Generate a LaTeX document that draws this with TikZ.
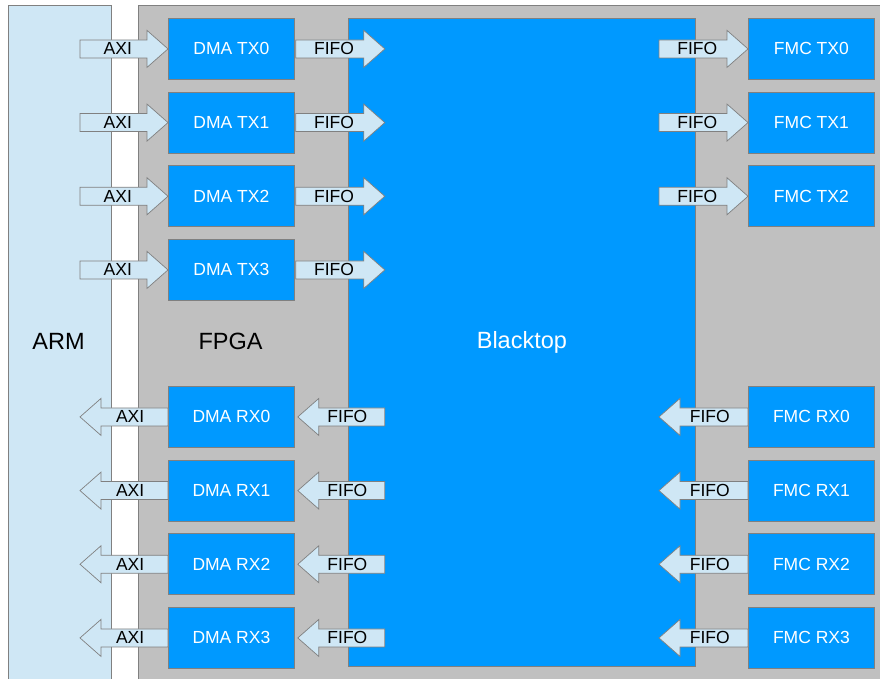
\documentclass[tikz,border=0pt]{standalone}
\usepackage{fontspec}
\setmainfont{Liberation Sans}
\usetikzlibrary{positioning,calc}
\definecolor{armblue}{RGB}{207,231,245}
\definecolor{boxblue}{RGB}{0,153,255}
\definecolor{fpgagray}{RGB}{192,192,192}
\definecolor{edgegray}{RGB}{128,128,128}
% block arrow: tail, tip, label name, label text
\newcommand{\busarrow}[4]{%
    \draw[bus] ($(#1)+(0,-9)$) -- ($(#2)!21pt!(#1)+(0,-9)$) -- ($(#2)!21pt!(#1)+(0,-18.5)$)
        -- (#2) -- ($(#2)!21pt!(#1)+(0,18.5)$) -- ($(#2)!21pt!(#1)+(0,9)$) -- ($(#1)+(0,9)$) -- cycle;
    \node[buslabel] (#3) at ($(#1)!0.43!(#2)$) {#4};
}

\begin{document}
\begin{tikzpicture}[
    x=1pt, y=-1pt,
    node distance=11.87pt,
    panel/.style={draw=edgegray, line width=0.8pt},
    block/.style={rectangle, draw=edgegray, line width=0.8pt, fill=boxblue, text=white,
        minimum width=126pt, minimum height=61pt, inner sep=0pt, font=\fontsize{17.5}{20}\selectfont},
    bus/.style={draw=edgegray, line width=0.7pt, fill=armblue},
    buslabel/.style={inner sep=0pt, text=black, font=\fontsize{17.5}{20}\selectfont},
    biglabel/.style={inner sep=0pt, font=\fontsize{23.5}{26}\selectfont}
]
    \clip (0,0) rectangle (880,678);
    \fill[white] (0,0) rectangle (880,678);

    % ARM and FPGA
    \draw[panel, fill=armblue] (8,5) rectangle (111,700);
    \draw[panel, fill=fpgagray] (138,5) rectangle (900,700);
    \node[biglabel] (arm) at (58.5,341.5) {ARM};
    \node[biglabel] (fpga) at (230.5,341.5) {FPGA};

    % Blacktop
    \node[block, minimum width=347pt, minimum height=648pt, font=\fontsize{23.5}{26}\selectfont,
        anchor=north west] (blacktop) at (348,18) {Blacktop};

    % DMA side
    \node[block, anchor=north west] (dmatx0) at (168,18) {DMA TX0};
    \node[block, below=of dmatx0] (dmatx1) {DMA TX1};
    \node[block, below=of dmatx1] (dmatx2) {DMA TX2};
    \node[block, below=of dmatx2] (dmatx3) {DMA TX3};
    \node[block, below=85.2pt of dmatx3] (dmarx0) {DMA RX0};
    \node[block, below=of dmarx0] (dmarx1) {DMA RX1};
    \node[block, below=of dmarx1] (dmarx2) {DMA RX2};
    \node[block, below=of dmarx2] (dmarx3) {DMA RX3};

    % FMC side
    \node[block, anchor=north west] (fmctx0) at (748,18) {FMC TX0};
    \node[block, below=of fmctx0] (fmctx1) {FMC TX1};
    \node[block, below=of fmctx1] (fmctx2) {FMC TX2};
    \node[block, below=85.2pt of fmctx2.south |- dmatx3.south] (fmcrx0) {FMC RX0};
    \node[block, below=of fmcrx0] (fmcrx1) {FMC RX1};
    \node[block, below=of fmcrx1] (fmcrx2) {FMC RX2};
    \node[block, below=of fmcrx2] (fmcrx3) {FMC RX3};

    % Arrows
    \foreach \i in {0,...,3} {
        \coordinate (axitx\i) at ($(dmatx\i.west)+(-88,0)$);
        \coordinate (fifotx\i) at ($(dmatx\i.east)+(90,0)$);
        \coordinate (axirx\i) at ($(dmarx\i.west)+(-88,0)$);
        \coordinate (fiforx\i) at ($(dmarx\i.east)+(90,0)$);
        \busarrow{axitx\i}{dmatx\i.west}{axitxl\i}{AXI}
        \busarrow{$(dmatx\i.east)+(1,0)$}{fifotx\i}{fifotxl\i}{FIFO}
        \busarrow{dmarx\i.west}{axirx\i}{axirxl\i}{AXI}
        \busarrow{fiforx\i}{$(dmarx\i.east)+(3,0)$}{fiforxl\i}{FIFO}
        \coordinate (fmcin\i) at ($(fmcrx\i.west)+(-89,0)$);
        \busarrow{fmcrx\i.west}{fmcin\i}{fmcrxl\i}{FIFO}
    }
    \foreach \i in {0,...,2} {
        \coordinate (fmcout\i) at ($(fmctx\i.west)+(-89,0)$);
        \busarrow{fmcout\i}{fmctx\i.west}{fmctxl\i}{FIFO}
    }
\end{tikzpicture}
\end{document}
